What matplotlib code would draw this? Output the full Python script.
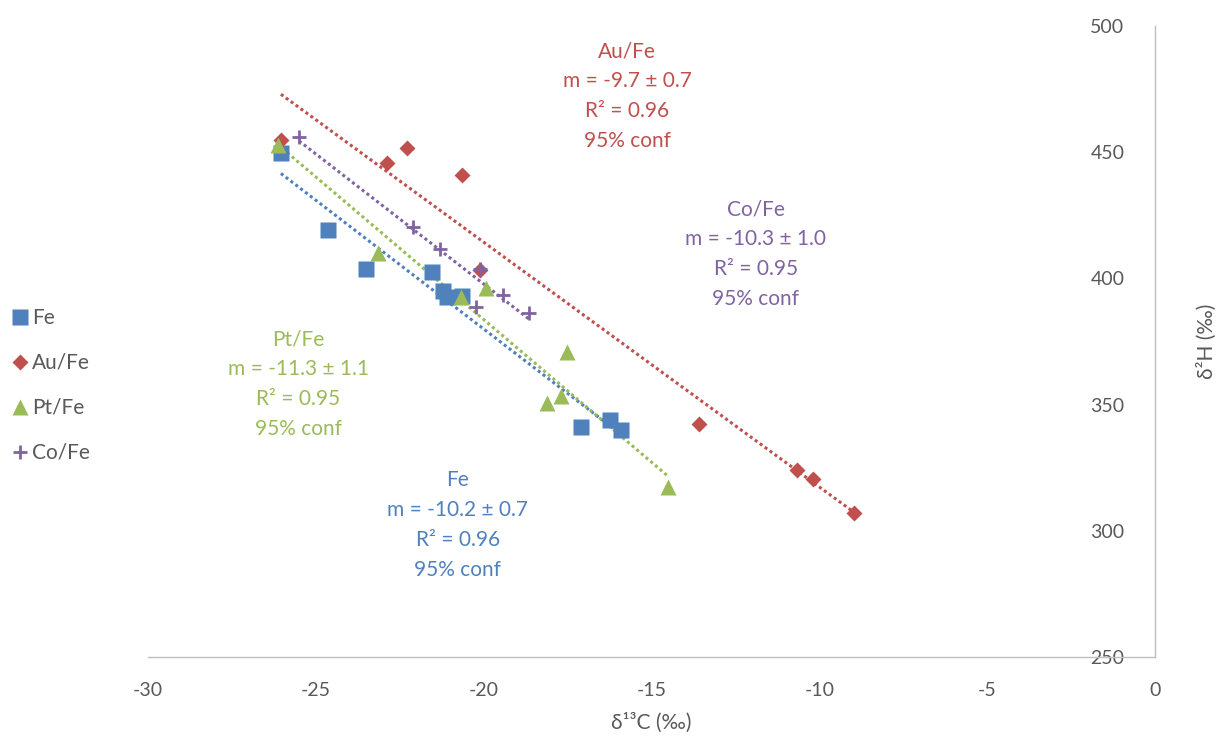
import numpy as np
import matplotlib
matplotlib.use('Agg')
import matplotlib.pyplot as plt

plt.rcParams['font.family'] = ['Lato', 'DejaVu Sans']
plt.rcParams['axes.unicode_minus'] = False

#--isotope data (d13C, d2H)--#
fe_x = [-26.04, -24.64, -23.50, -21.54, -21.21, -21.09, -20.65, -17.10, -16.24, -15.91]
fe_y = [449.7, 419.2, 403.7, 402.5, 395.0, 392.6, 393.0, 341.1, 343.9, 339.9]

au_x = [-26.04, -22.88, -22.28, -20.65, -20.11, -13.59, -10.67, -10.19, -8.97]
au_y = [455.0, 445.7, 451.7, 441.0, 403.3, 342.3, 324.1, 320.5, 307.0]

pt_x = [-26.13, -23.15, -20.68, -19.93, -17.52, -18.11, -17.70, -14.51]
pt_y = [453.0, 410.1, 392.6, 396.2, 370.8, 350.6, 353.4, 317.4]

co_x = [-25.50, -22.11, -21.30, -20.11, -20.23, -19.42, -18.65]
co_y = [456.0, 420.4, 411.6, 403.7, 388.7, 393.4, 386.3]

#--fitted slopes and stats--#
names = ['Fe', 'Au/Fe', 'Pt/Fe', 'Co/Fe']
slopes = [-10.2, -9.7, -11.3, -10.3]
slope_err = [0.7, 0.7, 1.1, 1.0]
r2 = [0.96, 0.96, 0.95, 0.95]

xticks = [-30, -25, -20, -15, -10, -5, 0]
yticks = [250, 300, 350, 400, 450, 500]

BLUE = '#4F81BD'
RED = '#C0504D'
GREEN = '#9BBB59'
PURPLE = '#8064A2'
GREY = '#595959'

fig = plt.figure(figsize=(12.32, 7.37), dpi=100)
ax = fig.add_axes([0.1201, 0.1085, 0.8174, 0.8562])

series = [
    (fe_x, fe_y, BLUE, 's', 11.3),
    (au_x, au_y, RED, 'D', 7.8),
    (pt_x, pt_y, GREEN, '^', 11.5),
    (co_x, co_y, PURPLE, '+', 9.5),
]

# trend lines through the centroid with the fitted slope
for (xs, ys, col, mk, ms), m in zip(series, slopes):
    xs = np.array(xs)
    ys = np.array(ys)
    xl = np.array([xs.min(), xs.max()])
    yl = ys.mean() + m * (xl - xs.mean())
    ax.plot(xl, yl, color=col, lw=2.2, linestyle=(0, (1, 1)), zorder=2)

handles = []
for (xs, ys, col, mk, ms), name in zip(series, names):
    if mk == '+':
        h, = ax.plot(xs, ys, linestyle='none', marker=mk, markersize=ms,
                     markeredgewidth=2, color=col, label=name, zorder=3)
    else:
        h, = ax.plot(xs, ys, linestyle='none', marker=mk, markersize=ms,
                     markerfacecolor=col, markeredgecolor='none', label=name, zorder=3)
    handles.append(h)

# annotation blocks
ann_pos = [(-20.77, 302.3), (-15.73, 472.3), (-25.53, 358.2), (-11.89, 409.5)]
ann_col = [BLUE, RED, GREEN, PURPLE]
for name, m, e, r, (px, py), col in zip(names, slopes, slope_err, r2, ann_pos, ann_col):
    txt = '%s\nm = %.1f ± %.1f\nR² = %.2f\n95%% conf' % (name, m, e, r)
    ax.text(px, py, txt, color=col, fontsize=15, ha='center', va='center',
            linespacing=1.62, zorder=4)

ax.set_xlim(-30, 0)
ax.set_ylim(250, 500)
ax.set_xticks(xticks)
ax.set_yticks(yticks)

for s in ['top', 'left']:
    ax.spines[s].set_visible(False)
for s in ['bottom', 'right']:
    ax.spines[s].set_color('#BFBFBF')
    ax.spines[s].set_linewidth(1.0)

ax.yaxis.set_ticks_position('right')
ax.tick_params(axis='x', length=0, pad=18, labelsize=14, labelcolor=GREY)
ax.tick_params(axis='y', length=0, pad=-22, labelsize=14, labelcolor=GREY)
for t in ax.yaxis.get_major_ticks():
    t.label2.set_horizontalalignment('right')

ax.set_xlabel('δ¹³C (‰)', fontsize=15, color=GREY, labelpad=10)
ax.yaxis.set_label_position('right')
ax.set_ylabel('δ²H (‰)', fontsize=15, color=GREY, labelpad=30, rotation=90)

fig.legend(handles=handles, labels=names, loc='center left',
           bbox_to_anchor=(-0.001, 0.477), frameon=False, fontsize=15,
           labelcolor=GREY, handlelength=0.6, handletextpad=0.3,
           labelspacing=1.2, borderaxespad=0.3)

fig.savefig('out.png', dpi=100)
